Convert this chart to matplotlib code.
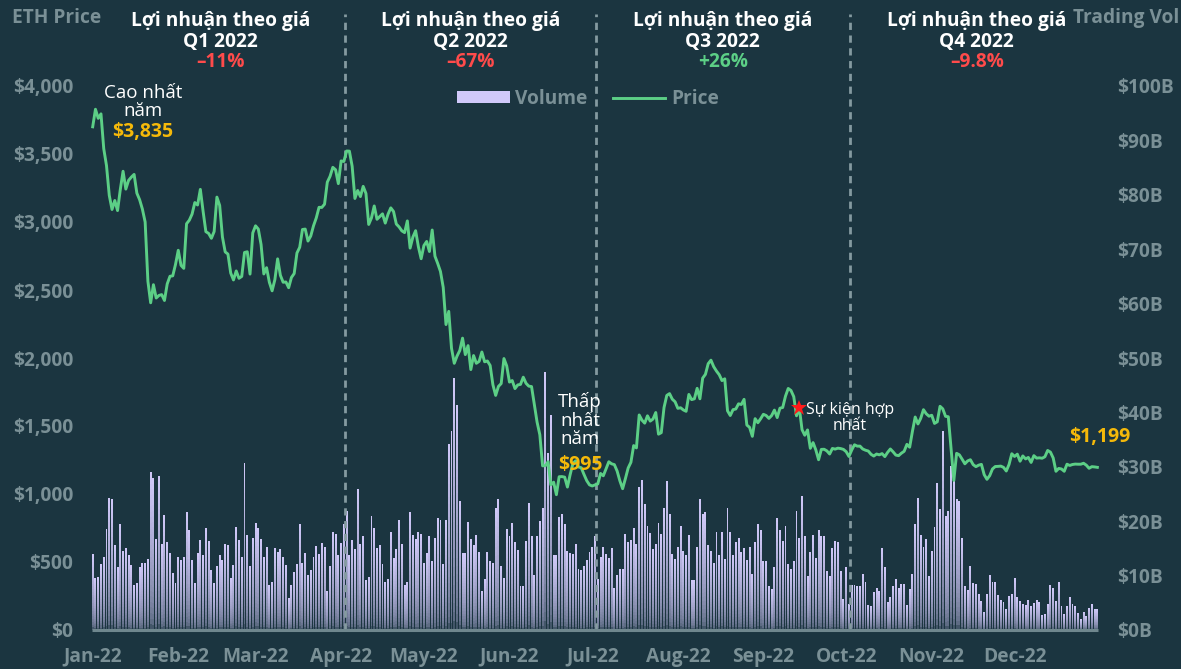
import numpy as np
import pandas as pd
import matplotlib
matplotlib.use("Agg")
import matplotlib.pyplot as plt
import matplotlib.dates as mdates
from matplotlib.patches import Patch
from matplotlib.lines import Line2D
from matplotlib import transforms

plt.rcParams['font.family'] = ['Open Sans', 'DejaVu Sans']

# ---------------- data ----------------
price_q1 = [
    # Jan
    3700, 3829, 3762, 3795, 3539, 3414, 3196, 3092, 3158, 3084,
    3239, 3373, 3242, 3306, 3330, 3350, 3212, 3164, 3095, 3000,
    2564, 2406, 2539, 2441, 2460, 2466, 2423, 2545, 2601, 2604, 2688,
    # Feb
    2792, 2681, 2659, 2987, 3013, 3058, 3143, 3125, 3240, 3078,
    2929, 2916, 2880, 2930, 3183, 3122, 2890, 2780, 2764, 2625,
    2574, 2640, 2586, 2600, 2776, 2781, 2617, 2920,
    # Mar
    2972, 2948, 2835, 2618, 2664, 2557, 2494, 2576, 2729, 2608,
    2557, 2559, 2517, 2592, 2621, 2772, 2814, 2945, 2948, 2860,
    2897, 2972, 3030, 3108, 3107, 3131, 3293, 3336, 3402, 3384, 3282,
]
price_q2 = [
    # Apr
    3449, 3445, 3522, 3521, 3410, 3173, 3232, 3187, 3262, 3210,
    2982, 3030, 3118, 3020, 3040, 3060, 2992, 3057, 3104, 3077,
    2985, 2964, 2935, 2922, 3008, 2808, 2889, 2936, 2818, 2730,
    # May
    2827, 2857, 2783, 2941, 2749, 2695, 2636, 2519, 2246, 2343,
    2072, 1961, 2014, 2055, 2146, 2025, 2091, 1915, 2018, 1961,
    1975, 2044, 1972, 1978, 1945, 1803, 1725, 1791, 1812, 1996, 1942,
    # Jun
    1823, 1834, 1775, 1802, 1806, 1859, 1814, 1793, 1790, 1660,
    1529, 1436, 1207, 1208, 1237, 1067, 1087, 995, 1127, 1128,
    1124, 1051, 1144, 1225, 1244, 1199, 1193, 1144, 1098, 1067,
]
price_q3 = [
    # Jul
    1059, 1067, 1074, 1151, 1134, 1186, 1237, 1222, 1216, 1169,
    1097, 1039, 1113, 1191, 1233, 1356, 1339, 1581, 1543, 1521,
    1575, 1536, 1551, 1599, 1440, 1451, 1636, 1725, 1738, 1697, 1678,
    # Aug
    1630, 1634, 1618, 1608, 1732, 1694, 1700, 1777, 1700, 1852,
    1880, 1958, 1984, 1936, 1904, 1877, 1834, 1847, 1612, 1577,
    1620, 1625, 1663, 1658, 1696, 1507, 1490, 1424, 1554, 1524, 1553,
    # Sep
    1586, 1577, 1556, 1577, 1617, 1562, 1631, 1636, 1719, 1776,
    1761, 1716, 1575, 1636, 1473, 1432, 1471, 1336, 1378, 1324,
    1252, 1328, 1329, 1317, 1294, 1335, 1330, 1337, 1334, 1328,
]
price_q4 = [
    # Oct
    1311, 1276, 1323, 1362, 1352, 1352, 1331, 1322, 1316, 1292,
    1279, 1294, 1288, 1297, 1275, 1306, 1331, 1310, 1286, 1282,
    1300, 1314, 1365, 1344, 1461, 1566, 1515, 1556, 1620, 1590, 1572,
    # Nov
    1579, 1519, 1531, 1645, 1626, 1571, 1568, 1333, 1100, 1299,
    1288, 1256, 1222, 1243, 1252, 1216, 1201, 1212, 1218, 1142,
    1108, 1135, 1184, 1202, 1203, 1205, 1196, 1169, 1217, 1296,
    # Dec
    1276, 1293, 1241, 1280, 1258, 1269, 1232, 1282, 1264, 1266,
    1263, 1274, 1320, 1308, 1265, 1167, 1188, 1184, 1167, 1219,
    1210, 1217, 1220, 1219, 1219, 1226, 1212, 1189, 1201, 1199, 1196,
]

# daily trading volume, billions USD
vol_q1 = [
    14.0, 9.6, 9.7, 12.1, 13.5, 18.6, 24.2, 24.0, 15.7, 11.5,
    19.4, 14.6, 15.0, 13.7, 11.9, 8.3, 8.6, 11.5, 12.4, 12.4,
    13.1, 29.0, 27.9, 16.7, 28.4, 15.8, 21.1, 16.2, 14.1, 10.4,
    8.6, 13.5, 12.9, 13.5, 21.6, 18.4, 12.8, 8.6, 14.1, 16.5,
    13.7, 18.7, 16.3, 11.0, 8.6, 11.8, 13.8, 12.9, 15.9, 15.7,
    9.6, 11.9, 18.9, 16.5, 13.4, 30.7, 17.5, 11.7, 17.0, 19.6,
    18.8, 16.7, 13.5, 15.2, 8.3, 8.9, 15.0, 14.4, 14.9, 13.5,
    11.9, 5.9, 8.3, 10.7, 12.2, 19.5, 12.3, 14.2, 10.1, 11.0,
    13.5, 15.4, 14.0, 16.0, 15.2, 7.2, 11.7, 18.1, 17.6, 13.8,
    16.0, 19.4, 21.8,
]
vol_q2 = [
    13.7, 16.6, 14.8, 25.9, 15.8, 17.2, 9.1, 9.7, 20.9, 18.7,
    15.1, 15.6, 12.2, 8.8, 9.3, 18.0, 13.2, 14.9, 20.2, 15.8,
    8.3, 8.9, 21.6, 17.5, 16.7, 18.0, 17.6, 12.3, 14.2, 17.3,
    12.6, 17.0, 20.5, 20.2, 12.2, 20.3, 34.2, 36.6, 46.3, 41.4,
    23.7, 14.1, 14.1, 19.8, 16.7, 15.6, 17.5, 14.3, 7.2, 9.4,
    14.3, 12.6, 12.3, 22.4, 24.1, 11.7, 9.5, 18.6, 17.2, 19.6,
    16.2, 14.7, 8.0, 8.1, 16.3, 23.3, 17.3, 10.2, 17.3, 20.1,
    22.5, 47.4, 32.5, 39.5, 13.7, 13.8, 20.8, 21.3, 19.5, 14.5,
    14.2, 14.0, 15.9, 11.3, 11.1, 11.7, 12.9, 14.4, 15.2, 17.2,
    9.4,
]
vol_q3 = [
    13.5, 15.2, 14.0, 13.2, 15.0, 7.7, 10.1, 11.3, 11.3, 17.6,
    16.2, 16.5, 18.7, 15.8, 26.2, 27.5, 23.1, 19.2, 17.8, 14.8,
    15.8, 19.6, 17.6, 22.4, 27.3, 21.3, 14.0, 13.1, 15.2, 19.2,
    14.6, 13.7, 17.5, 9.1, 9.1, 15.2, 24.0, 21.3, 21.6, 15.6,
    14.6, 12.3, 18.1, 13.7, 18.1, 13.1, 22.4, 18.0, 13.8, 16.2,
    16.9, 14.4, 15.0, 12.9, 15.2, 10.3, 16.2, 19.4, 18.3, 12.7,
    12.7, 8.1, 7.5, 11.5, 20.5, 18.3, 16.4, 19.2, 12.1, 11.3,
    12.7, 21.9, 16.9, 24.6, 17.3, 9.9, 14.3, 17.5, 13.2, 18.4,
    17.2, 17.2, 10.8, 10.0, 15.0, 16.4, 16.2, 10.9, 5.7, 11.5,
]
vol_q4 = [
    4.8, 8.3, 8.3, 8.1, 8.1, 10.3, 8.8, 4.6, 4.5, 7.0,
    7.8, 7.2, 15.1, 11.5, 5.2, 6.0, 8.1, 9.3, 7.8, 8.5,
    8.5, 4.6, 7.5, 10.3, 19.4, 24.2, 17.5, 15.3, 16.7, 10.0,
    14.6, 18.9, 27.1, 22.2, 36.6, 20.9, 21.9, 30.1, 27.8, 24.1,
    23.7, 16.9, 8.1, 7.4, 11.7, 8.6, 8.5, 6.7, 5.4, 3.4,
    6.6, 10.1, 8.9, 8.9, 6.5, 5.6, 5.1, 3.9, 6.2, 6.6,
    9.6, 6.0, 5.4, 4.8, 4.6, 5.5, 4.4, 4.9, 5.6, 5.2,
    2.8, 2.9, 4.7, 8.3, 7.7, 5.4, 8.9, 4.4, 2.9, 4.5,
    6.1, 4.8, 4.4, 3.1, 2.0, 3.4, 2.6, 4.0, 4.8, 3.9,
    3.9,
]

quarter_starts = ['2022-01-01', '2022-04-01', '2022-07-01', '2022-10-01', '2023-01-01']
quarter_names = ['Q1 2022', 'Q2 2022', 'Q3 2022', 'Q4 2022']
quarter_returns = ['\u201311%', '\u201367%', '+26%', '\u20139.8%']
month_labels = ['Jan-22', 'Feb-22', 'Mar-22', 'Apr-22', 'May-22', 'Jun-22',
                'Jul-22', 'Aug-22', 'Sep-22', 'Oct-22', 'Nov-22', 'Dec-22']
price_ticks = [0, 500, 1000, 1500, 2000, 2500, 3000, 3500, 4000]
vol_ticks = [0, 10, 20, 30, 40, 50, 60, 70, 80, 90, 100]
high_label = '$3,835'
low_label = '$995'
last_label = '$1,199'
merge_date = '2022-09-14'

# ---------------- style ----------------
BG = '#1b3540'
GREY = '#7a9096'
WHITE = '#ffffff'
RED = '#ff4b4b'
GREEN = '#5ccf86'
GOLD = '#f5b90a'
LAV = np.array([0.82, 0.79, 0.98])
BGRGB = np.array([0x1b, 0x35, 0x40]) / 255.0
FS = 13.8

W, H = 1181, 669
fig = plt.figure(figsize=(W / 100, H / 100), dpi=100, facecolor=BG)

def fx(px):
    return px / W

def fy(py):
    return 1 - py / H

ax = fig.add_axes([fx(90), fy(630), fx(1100) - fx(90), (630 - 86) / H])
ax.set_facecolor(BG)
ax2 = ax.twinx()

price = np.array(price_q1 + price_q2 + price_q3 + price_q4, dtype=float)
vol = np.array(vol_q1 + vol_q2 + vol_q3 + vol_q4, dtype=float)
dates_p = mdates.date2num(pd.date_range('2022-01-01', periods=len(price), freq='D'))
dates_v = mdates.date2num(pd.date_range('2022-01-01', periods=len(vol), freq='D'))
d0 = mdates.date2num(pd.Timestamp('2022-01-01'))

# gradient volume bars (each bar fades from lavender at top to dark at bottom)
N = 28
for k in range(N):
    f = k / N
    t = 0.22 + 0.78 * (f ** 0.5)
    col = BGRGB + (LAV - BGRGB) * t
    ax.bar(dates_v, vol * (1 - f), bottom=vol * f, width=0.7,
           color=col, linewidth=0, zorder=2)

ax.set_ylim(0, 100)
ax.set_xlim(d0 - 0.98, d0 + 364.96)
ax.yaxis.tick_right()
ax.set_yticks(vol_ticks)
ax.set_yticklabels([f'${v}B' for v in vol_ticks], fontweight='bold')
ax.tick_params(axis='y', length=0, pad=12, labelsize=FS, labelcolor=GREY)

month_pos = mdates.date2num(pd.date_range('2022-01-01', periods=12, freq='MS'))
ax.set_xticks(month_pos)
ax.set_xticklabels(month_labels, fontweight='bold')
ax.tick_params(axis='x', length=0, pad=12, labelsize=FS, labelcolor=GREY)
for sp in ax.spines.values():
    sp.set_visible(False)

# price axis
ax2.plot(dates_p, price, color=GREEN, lw=2.1, zorder=4, solid_joinstyle='round')
ax2.set_ylim(0, 4000)
ax2.yaxis.tick_left()
ax2.set_yticks(price_ticks)
ax2.set_yticklabels([f'${v:,}' for v in price_ticks], fontweight='bold')
ax2.tick_params(axis='y', length=0, pad=12, labelsize=FS, labelcolor=GREY)
for sp in ax2.spines.values():
    sp.set_visible(False)

# baseline
ax2.plot([dates_v[0] - 0.4, dates_v[-1] + 0.4], [0, 0], color='#6f878e', lw=2.2,
         zorder=3, clip_on=False, solid_capstyle='butt')

# quarter separators
q_pos = mdates.date2num(pd.to_datetime(quarter_starts)) + 1.3
ytop = (630 - 14) / (630 - 86)
for xq in q_pos[1:4]:
    ax2.axvline(xq, ymin=0, ymax=ytop, color='#849aa0', lw=2.0,
                linestyle=(0, (2.6, 2.0)), clip_on=False, zorder=2)

# quarter headers
trans = transforms.blended_transform_factory(ax.transData, fig.transFigure)
for i in range(4):
    xc = (q_pos[i] + q_pos[i + 1]) / 2
    ax.text(xc, fy(21), 'L\u1ee3i nhu\u1eadn theo gi\u00e1', transform=trans,
            ha='center', va='center', color=WHITE, fontsize=FS, fontweight='bold')
    ax.text(xc, fy(42), quarter_names[i], transform=trans,
            ha='center', va='center', color=WHITE, fontsize=FS, fontweight='bold')
    ax.text(xc, fy(62), quarter_returns[i], transform=trans,
            ha='center', va='center', color=(GREEN if quarter_returns[i].startswith('+') else RED),
            fontsize=FS, fontweight='bold')

# axis titles
fig.text(fx(12), fy(18), 'ETH Price', ha='left', va='center', color=GREY,
         fontsize=FS, fontweight='bold')
fig.text(fx(1073), fy(18), 'Trading Vol', ha='left', va='center', color=GREY,
         fontsize=FS, fontweight='bold')

# legend
handles = [Patch(facecolor=LAV, edgecolor='none'), Line2D([0], [0], color=GREEN, lw=2.1)]
leg = ax2.legend(handles, ['Volume', 'Price'], loc='center',
                 bbox_to_anchor=(fx(588), fy(99)), bbox_transform=fig.transFigure,
                 ncol=2, frameon=False, handlelength=2.75, handleheight=0.62,
                 handletextpad=0.3, columnspacing=1.3,
                 prop={'weight': 'bold', 'size': FS})
for t in leg.get_texts():
    t.set_color(GREY)

# annotations
fig.text(fx(143), fy(102), 'Cao nh\u1ea5t\nn\u0103m', ha='center', va='center',
         color=WHITE, fontsize=13.5, linespacing=1.05, multialignment='center')
fig.text(fx(143), fy(132), high_label, ha='center', va='center',
         color=GOLD, fontsize=14, fontweight='bold')
fig.text(fx(580), fy(420), 'Th\u1ea5p\nnh\u1ea5t\nn\u0103m', ha='center', va='center',
         color=WHITE, fontsize=13.5, linespacing=1.05, multialignment='center')
fig.text(fx(580), fy(465), low_label, ha='center', va='center',
         color=GOLD, fontsize=14, fontweight='bold')
fig.text(fx(1100), fy(437), last_label, ha='center', va='center',
         color=GOLD, fontsize=14, fontweight='bold')

mi = int((pd.Timestamp(merge_date) - pd.Timestamp('2022-01-01')).days)
ax2.plot([dates_p[mi]], [price[mi]], marker='*', color='#ff1a1a', markersize=12,
         markeredgewidth=0, zorder=6, clip_on=False)
fig.text(fx(850), fy(418), 'S\u1ef1 ki\u1ec7n h\u1ee3p\nnh\u1ea5t', ha='center', va='center',
         color=WHITE, fontsize=11.5, linespacing=1.05, multialignment='center')

fig.savefig('out.png', dpi=100, facecolor=BG)
